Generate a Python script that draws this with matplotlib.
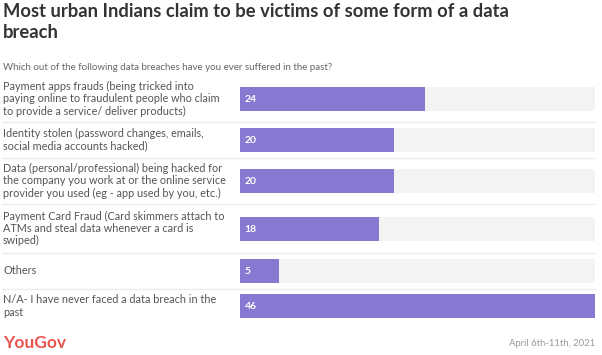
import matplotlib
matplotlib.use("Agg")
import matplotlib.pyplot as plt
import matplotlib.transforms as mtransforms

# ---- data ----
categories = [
    "Payment apps frauds (being tricked into\npaying online to fraudulent people who claim\nto provide a service/ deliver products)",
    "Identity stolen (password changes, emails,\nsocial media accounts hacked)",
    "Data (personal/professional) being hacked for\nthe company you work at or the online service\nprovider you used (eg - app used by you, etc.)",
    "Payment Card Fraud (Card skimmers attach to\nATMs and steal data whenever a card is\nswiped)",
    "Others",
    "N/A- I have never faced a data breach in the\npast",
]
values = [24, 20, 20, 18, 5, 46]
x_max = 46

title = "Most urban Indians claim to be victims of some form of a data\nbreach"
subtitle = "Which out of the following data breaches have you ever suffered in the past?"
date_text = "April 6th-11th, 2021"

# ---- layout (pixels) ----
W, H = 602, 355
row_heights = [46, 36, 46, 49, 36, 34]
top_px = 76
bar_h = 24
bar_color = "#8878d2"
bg_color = "#f3f3f3"
font = "Lato"

fig = plt.figure(figsize=(W / 100, H / 100), dpi=100)
fig.patch.set_facecolor("white")

total = sum(row_heights)
left_px, right_px = 240, 595
ax = fig.add_axes([left_px / W, 1 - (top_px + total) / H,
                   (right_px - left_px) / W, total / H])
ax.set_xlim(0, x_max)
ax.set_ylim(top_px + total, top_px)
ax.axis("off")

centers = []
y = top_px
for h in row_heights:
    centers.append(y + h / 2)
    y += h

# background bars
ax.barh(centers, [x_max] * len(values), height=bar_h, color=bg_color, zorder=1)
ax.barh(centers, values, height=bar_h, color=bar_color, zorder=2)

# separators
y = top_px
for h in row_heights[:-1]:
    y += h
    ax.axhline(y, xmin=-(left_px - 2) / (right_px - left_px), xmax=1,
               color="#ececec", lw=1.0, clip_on=False, zorder=0)

# value labels
for c, v in zip(centers, values):
    ax.text(0.6, c + 0.5, f"{v}", color="white", fontsize=7.5, family=font,
            fontweight="bold", va="center", ha="left", zorder=3)

# category labels
trans = mtransforms.blended_transform_factory(fig.transFigure, ax.transData)
for c, lab in zip(centers, categories):
    ax.text(3 / W, c, lab, transform=trans, fontsize=7.8, family=font,
            color="#555555", va="center", ha="left", linespacing=1.15)

# title & subtitle
fig.text(3 / W, 1 - 3 / H, title, fontsize=13.2, family=font, fontweight="bold",
         color="#333333", va="top", ha="left", linespacing=1.25)
fig.text(3 / W, 1 - 63 / H, subtitle, fontsize=7.0, family=font,
         color="#666666", va="top", ha="left")

# footer
fig.text(3 / W, 1 - 343 / H, "YouGov", fontsize=12.5, family=font,
         fontweight="bold", color="#e8554e", va="center", ha="left")
fig.text(595 / W, 1 - 343 / H, date_text, fontsize=6.8, family=font,
         color="#9a9a9a", va="center", ha="right")

fig.savefig("out.png", dpi=100, facecolor="white")
